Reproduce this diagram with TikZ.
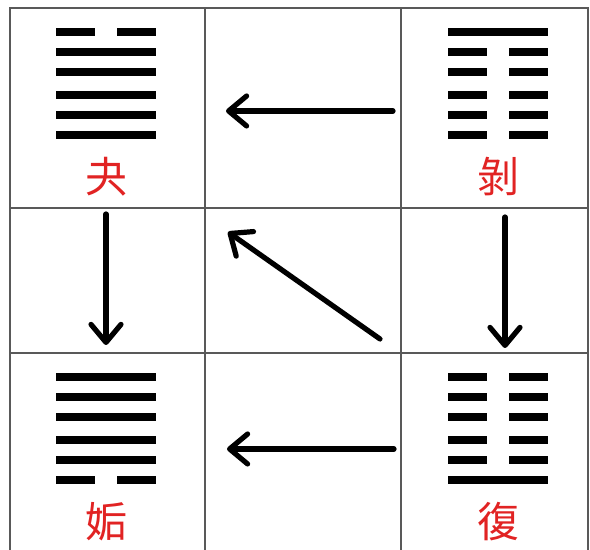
\documentclass[tikz,border=0pt]{standalone}
\usepackage{fontspec}
\newfontfamily\cjk{Noto Sans CJK TC}
\usetikzlibrary{positioning, calc, arrows.meta}
\definecolor{guared}{RGB}{225,35,35}

\tikzset{
  gridline/.style={line width=0.8pt, black!65},
  yaoline/.style={line width=3.6pt, black},
  flow/.style={line width=2.6pt, line cap=round, -{Straight Barb[length=9pt,width=15pt,round]}},
  gualabel/.style={text=guared, font=\cjk\fontsize{21}{21}\selectfont, inner sep=0pt}
}

% #1 = x centre, #2 = y of the top line, #3 = lines top to bottom (1 yang, 0 yin)
\newcommand{\gua}[3]{%
  \foreach \b [count=\i] in {#3} {
    \pgfmathsetmacro{\yy}{#2-(\i-1)*20-(\i>3)*3}
    \ifnum\b=1
      \draw[yaoline] (#1-50,\yy) -- (#1+50,\yy);
    \else
      \draw[yaoline] (#1-50,\yy) -- (#1-11,\yy);
      \draw[yaoline] (#1+11,\yy) -- (#1+50,\yy);
    \fi
  }}

\begin{document}
\begin{tikzpicture}[x=0.5pt, y=0.5pt]
\useasboundingbox (0,0) rectangle (590,550);

% grid
\draw[gridline] (10,0) -- (10,542) -- (588,542) -- (588,0);
\draw[gridline] (205,0) -- (205,542);
\draw[gridline] (401,0) -- (401,542);
\draw[gridline] (10,342) -- (588,342);
\draw[gridline] (10,197) -- (588,197);

% hexagrams
\gua{106}{518}{0,1,1,1,1,1}
\gua{498}{518}{1,0,0,0,0,0}
\gua{106}{173}{1,1,1,1,1,0}
\gua{498}{173}{0,0,0,0,0,1}

% names
\node[gualabel] (guai) at (106,373) {夬};
\node[gualabel] (bo)   at (498,373) {剝};
\node[gualabel] (gou)  at (106,28) {姤};
\node[gualabel] (fu)   at (498,28) {復};

% arrow ends
\coordinate (topR) at (393,439);
\coordinate (topL) at (226,439);
\coordinate (midR) at (380,211);
\coordinate (midL) at (228,318);
\coordinate (leftT) at (106,336);
\coordinate (leftB) at (106,205);
\coordinate (rightT) at (505,333);
\coordinate (rightB) at (505,202);
\coordinate (botR) at (394,101);
\coordinate (botL) at (227,101);

\draw[flow] (topR) -- (topL);
\draw[flow] (midR) -- (midL);
\draw[flow] (leftT) -- (leftB);
\draw[flow] (rightT) -- (rightB);
\draw[flow] (botR) -- (botL);

\end{tikzpicture}
\end{document}
